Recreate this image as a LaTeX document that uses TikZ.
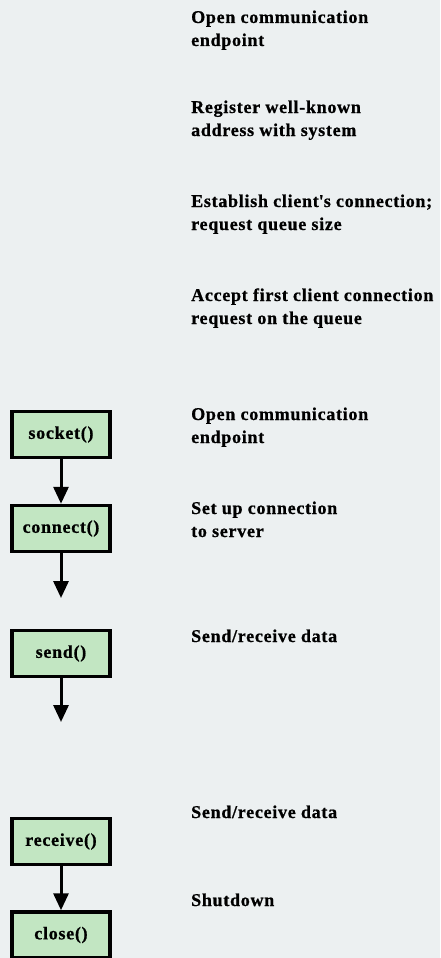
\documentclass[tikz,border=0pt]{standalone}
\usepackage{fontspec}
\setmainfont{Liberation Serif}[LetterSpace=4, BoldFeatures={FakeBold=0.8}]
\usetikzlibrary{arrows.meta}
\definecolor{bg}{HTML}{ECF0F1}
\definecolor{callfill}{HTML}{C2E6C2}
\tikzset{
  call/.style={draw=black, line width=3.5pt, fill=callfill, minimum width=98pt,
    minimum height=46pt, inner sep=0pt, font=\bfseries\fontsize{18}{20}\selectfont},
  flow/.style={line width=3pt, -{Triangle[width=15pt,length=17pt]}},
  note/.style={anchor=base west, align=left, inner sep=0pt,
    font=\bfseries\fontsize{18}{23}\selectfont}
}
\begin{document}
\begin{tikzpicture}[x=1pt,y=-1pt]
  \fill[bg] (0,0) rectangle (440,958);
  \useasboundingbox (0,0) rectangle (440,958);

  % system calls
  \node[call] (socket)  at (61,434.5) {socket()};
  \node[call] (connect) at (61,528.5) {connect()};
  \node[call] (send)    at (61,653.5) {send()};
  \node[call] (receive) at (61,841.5) {receive()};
  \node[call] (close)   at (61,935) {close()};

  \coordinate (connectout) at (61,598);
  \coordinate (sendout) at (61,722);

  \draw[flow] (socket) -- (connect);
  \draw[flow] (connect) -- (connectout);
  \draw[flow] (send) -- (sendout);
  \draw[flow] (receive) -- (close);

  % descriptions (positioned at the baseline of their last line)
  \node[note] (n1) at (191,46)  {Open communication\\endpoint};
  \node[note] (n2) at (191,136) {Register well-known\\address with system};
  \node[note] (n3) at (191,230) {Establish client\textquotesingle s connection;\\request queue size};
  \node[note] (n4) at (191,324) {Accept first client connection\\request on the queue};
  \node[note] (n5) at (191,443) {Open communication\\endpoint};
  \node[note] (n6) at (191,537) {Set up connection\\to server};
  \node[note] (n7) at (191,642) {Send/receive data};
  \node[note] (n8) at (191,818) {Send/receive data};
  \node[note] (n9) at (191,906) {Shutdown};
\end{tikzpicture}
\end{document}
